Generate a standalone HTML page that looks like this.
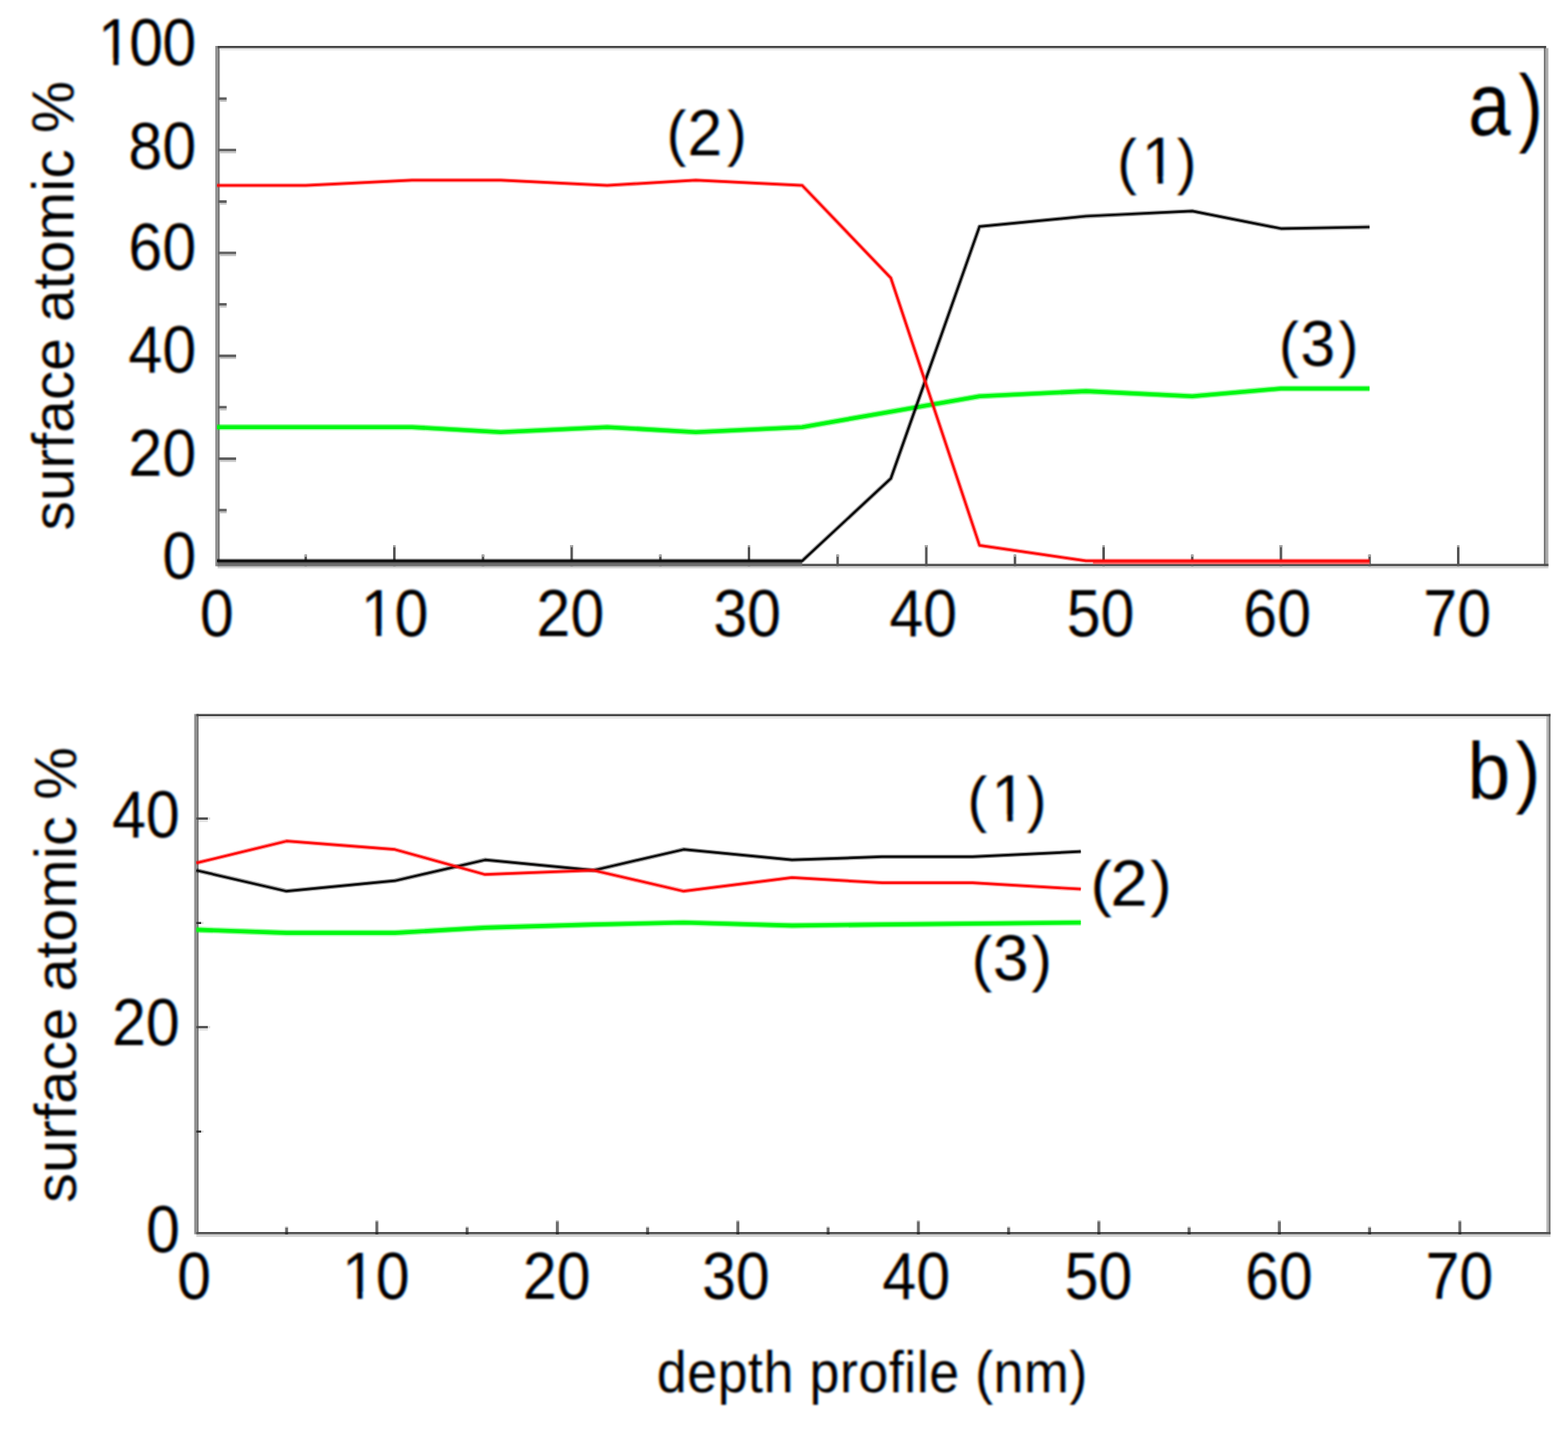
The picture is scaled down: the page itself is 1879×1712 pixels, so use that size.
<!DOCTYPE html>
<html lang="en">
<head>
<meta charset="utf-8">
<title>Depth profiles: surface atomic % vs depth profile (nm)</title>
<style>
html, body { margin: 0; padding: 0; background: #ffffff; }
body { width: 1879px; height: 1712px; overflow: hidden; }
svg { display: block; }
svg text { font-family: "Liberation Sans", Arial, Helvetica, sans-serif; fill: #000000; stroke: none; }
.lines polyline { fill: none; stroke-linejoin: round; stroke-linecap: butt; }
</style>
</head>
<body>
<svg width="1879" height="1712" viewBox="0 0 1879 1712" role="img" aria-label="Depth profiles of surface atomic percent, panels a and b">
<defs>
<filter id="cleartype" filterUnits="userSpaceOnUse" x="-30" y="-30" width="1939" height="1772" color-interpolation-filters="sRGB">
<feGaussianBlur in="SourceGraphic" stdDeviation="0.85" result="s"/>
<feOffset in="s" dx="1.25" dy="0" result="sr"/>
<feOffset in="s" dx="-1.25" dy="0" result="sb"/>
<feColorMatrix in="sr" type="matrix" values="0.80 0 0 0 0  0.12 0 0 0 0  0 0 0 0 0  0 0 0 1 0" result="r"/>
<feColorMatrix in="s"  type="matrix" values="0 0.20 0 0 0  0 0.76 0 0 0  0 0.20 0 0 0  0 0 0 1 0" result="g"/>
<feColorMatrix in="sb" type="matrix" values="0 0 0 0 0  0 0 0.12 0 0  0 0 0.80 0 0  0 0 0 1 0" result="b"/>
<feComposite in="r" in2="g" operator="arithmetic" k1="0" k2="1" k3="1" k4="0" result="rg"/>
<feComposite in="rg" in2="b" operator="arithmetic" k1="0" k2="1" k3="1" k4="0"/>
</filter>
<clipPath id="c1" clipPathUnits="userSpaceOnUse"><rect x="-4000.0" y="-4000.0" width="8000.0" height="3989.53"/><rect x="30.93" y="-4000.0" width="8.23" height="8000.0"/><rect x="-4000.0" y="-4000.0" width="4008.48" height="8000.0"/><rect x="59.98" y="-4000.0" width="4000.0" height="8000.0"/></clipPath>
<clipPath id="c2" clipPathUnits="userSpaceOnUse"><rect x="-4000.0" y="-4000.0" width="8000.0" height="3989.53"/><rect x="25.45" y="-4000.0" width="8.23" height="8000.0"/><rect x="-4000.0" y="-4000.0" width="4003.00" height="8000.0"/><rect x="54.50" y="-4000.0" width="4000.0" height="8000.0"/></clipPath>
<clipPath id="c3" clipPathUnits="userSpaceOnUse"><rect x="-4000" y="-4000" width="8000" height="3992.66"/><rect x="1460.30" y="-4000" width="6.52" height="8000"/><rect x="-4000" y="-4000" width="5442.51" height="8000"/><rect x="1483.31" y="-4000" width="4000" height="8000"/></clipPath>
<clipPath id="c4" clipPathUnits="userSpaceOnUse"><rect x="-4000.0" y="-4000.0" width="8000.0" height="3989.53"/><rect x="25.45" y="-4000.0" width="8.23" height="8000.0"/><rect x="-4000.0" y="-4000.0" width="4003.00" height="8000.0"/><rect x="54.50" y="-4000.0" width="4000.0" height="8000.0"/></clipPath>
<clipPath id="c5" clipPathUnits="userSpaceOnUse"><rect x="-4000" y="-4000" width="8000" height="3992.94"/><rect x="1270.75" y="-4000" width="6.59" height="8000"/><rect x="-4000" y="-4000" width="5252.77" height="8000"/><rect x="1294.01" y="-4000" width="4000" height="8000"/></clipPath>
</defs>
<rect x="0" y="0" width="1879" height="1712" fill="#ffffff"/>
<g class="labels" filter="url(#cleartype)">
<rect x="-40" y="-40" width="1959" height="1792" fill="#ffffff"/>
<text transform="translate(113.25,78.21) scale(0.7300,0.8050)" font-size="100" stroke-width="0.00" clip-path="url(#c1)"><tspan dx="5.48">1</tspan><tspan dx="-4.11">0</tspan><tspan dx="-1.37">0</tspan></text>
<text transform="translate(153.85,201.91) scale(0.7300,0.8050)" font-size="100" stroke-width="0.00">80</text>
<text transform="translate(153.85,323.01) scale(0.7300,0.8050)" font-size="100" stroke-width="0.00">60</text>
<text transform="translate(153.85,446.41) scale(0.7300,0.8050)" font-size="100" stroke-width="0.00">40</text>
<text transform="translate(153.85,570.01) scale(0.7300,0.8050)" font-size="100" stroke-width="0.00">20</text>
<text transform="translate(194.45,693.31) scale(0.7300,0.8050)" font-size="100" stroke-width="0.00">0</text>
<text transform="translate(239.45,762.26) scale(0.7300,0.8050)" font-size="100" stroke-width="0.00">0</text>
<text transform="translate(432.25,762.26) scale(0.7300,0.8050)" font-size="100" stroke-width="0.00" clip-path="url(#c2)">10</text>
<text transform="translate(642.85,762.26) scale(0.7300,0.8050)" font-size="100" stroke-width="0.00">20</text>
<text transform="translate(854.65,762.26) scale(0.7300,0.8050)" font-size="100" stroke-width="0.00">30</text>
<text transform="translate(1065.65,762.26) scale(0.7300,0.8050)" font-size="100" stroke-width="0.00">40</text>
<text transform="translate(1278.25,762.26) scale(0.7300,0.8050)" font-size="100" stroke-width="0.00">50</text>
<text transform="translate(1489.85,762.26) scale(0.7300,0.8050)" font-size="100" stroke-width="0.00">60</text>
<text transform="translate(1705.55,762.26) scale(0.7300,0.8050)" font-size="100" stroke-width="0.00">70</text>
<text transform="translate(0,184.66) scale(0.9566,1)" stroke-width="0.00"><tspan x="835.06" dy="0.00" font-size="73.85">(</tspan><tspan x="861.25" dy="1.69" font-size="78.34">2</tspan><tspan x="910.92" dy="-1.69" font-size="73.85">)</tspan></text>
<text transform="translate(0,218.69) scale(0.9500,1)" stroke-width="0.00" clip-path="url(#c3)"><tspan x="1409.30" dy="0.00" font-size="74.17">(</tspan><tspan x="1440.13" dy="0.96" font-size="79.22">1</tspan><tspan x="1484.52" dy="-0.96" font-size="74.17">)</tspan></text>
<text transform="translate(0,437.59) scale(0.9661,1)" stroke-width="0.00"><tspan x="1586.35" dy="0.00" font-size="74.17">(</tspan><tspan x="1612.84" dy="0.70" font-size="77.68">3</tspan><tspan x="1660.28" dy="-0.70" font-size="74.17">)</tspan></text>
<text transform="translate(0,162.39) scale(0.8452,1)" stroke-width="0.00"><tspan x="2081.60" dy="0.00" font-size="108.24">a</tspan><tspan x="2153.14" dy="-0.69" font-size="103.58">)</tspan></text>
<text transform="translate(88.00,635.40) rotate(-90) scale(0.7020,0.7050)" font-size="100" stroke-width="0.00">surface atomic %</text>
<text transform="translate(134.25,1002.56) scale(0.7300,0.8050)" font-size="100" stroke-width="0.00">40</text>
<text transform="translate(134.25,1252.46) scale(0.7300,0.8050)" font-size="100" stroke-width="0.00">20</text>
<text transform="translate(175.05,1499.86) scale(0.7300,0.8050)" font-size="100" stroke-width="0.00">0</text>
<text transform="translate(212.35,1555.86) scale(0.7300,0.8050)" font-size="100" stroke-width="0.00">0</text>
<text transform="translate(409.65,1555.86) scale(0.7300,0.8050)" font-size="100" stroke-width="0.00" clip-path="url(#c4)">10</text>
<text transform="translate(626.45,1555.86) scale(0.7300,0.8050)" font-size="100" stroke-width="0.00">20</text>
<text transform="translate(841.15,1555.86) scale(0.7300,0.8050)" font-size="100" stroke-width="0.00">30</text>
<text transform="translate(1057.35,1555.86) scale(0.7300,0.8050)" font-size="100" stroke-width="0.00">40</text>
<text transform="translate(1275.65,1555.86) scale(0.7300,0.8050)" font-size="100" stroke-width="0.00">50</text>
<text transform="translate(1491.95,1555.86) scale(0.7300,0.8050)" font-size="100" stroke-width="0.00">60</text>
<text transform="translate(1708.15,1555.86) scale(0.7300,0.8050)" font-size="100" stroke-width="0.00">70</text>
<text transform="translate(0,982.83) scale(0.9500,1)" stroke-width="0.00" clip-path="url(#c5)"><tspan x="1220.24" dy="0.00" font-size="74.49">(</tspan><tspan x="1250.36" dy="1.32" font-size="80.09">1</tspan><tspan x="1295.21" dy="-1.32" font-size="74.49">)</tspan></text>
<text transform="translate(0,1084.02) scale(1.0348,1)" stroke-width="0.00"><tspan x="1262.85" dy="0.00" font-size="74.06">(</tspan><tspan x="1285.83" dy="1.03" font-size="77.77">2</tspan><tspan x="1332.19" dy="-1.03" font-size="74.06">)</tspan></text>
<text transform="translate(0,1173.97) scale(0.9953,1)" stroke-width="0.00"><tspan x="1169.69" dy="0.00" font-size="74.28">(</tspan><tspan x="1195.39" dy="0.32" font-size="77.26">3</tspan><tspan x="1241.88" dy="-0.32" font-size="74.28">)</tspan></text>
<text transform="translate(0,957.40) scale(0.9480,1)" stroke-width="0.00"><tspan x="1854.94" dy="0.00" font-size="97.23">b</tspan><tspan x="1915.54" dy="-1.62" font-size="94.99">)</tspan></text>
<text transform="translate(91.10,1440.93) rotate(-90) scale(0.7120,0.7050)" font-size="100" stroke-width="0.00">surface atomic %</text>
<text transform="translate(786.89,1668.49) scale(0.6450,0.7030)" font-size="100" stroke-width="0.00" letter-spacing="0.97">depth profile (nm)</text>
</g>
<g class="frame">
<rect x="258.00" y="55.00" width="2.70" height="623.40" fill="#8e8e8e"/>
<rect x="260.70" y="55.00" width="2.60" height="623.40" fill="#7a7a7a"/>
<rect x="1850.00" y="55.00" width="2.70" height="623.40" fill="#7c7c7c"/>
<rect x="1852.70" y="57.60" width="2.80" height="620.80" fill="#ababab"/>
<rect x="260.70" y="55.00" width="1592.00" height="2.80" fill="#464646"/>
<rect x="263.30" y="57.80" width="1586.70" height="2.60" fill="#e9e9e9"/>
<rect x="260.70" y="675.50" width="1594.80" height="3.00" fill="#4c4c4c"/>
<rect x="260.70" y="678.50" width="1594.80" height="2.50" fill="#d4d4d4"/>
<rect x="261.50" y="609.58" width="10.10" height="3.20" fill="#5e5e5e"/>
<rect x="263.30" y="612.78" width="8.30" height="2.20" fill="#c4c4c4"/>
<rect x="261.50" y="547.96" width="21.40" height="3.20" fill="#5e5e5e"/>
<rect x="263.30" y="551.16" width="19.60" height="2.20" fill="#c4c4c4"/>
<rect x="261.50" y="486.34" width="10.10" height="3.20" fill="#5e5e5e"/>
<rect x="263.30" y="489.54" width="8.30" height="2.20" fill="#c4c4c4"/>
<rect x="261.50" y="424.72" width="21.40" height="3.20" fill="#5e5e5e"/>
<rect x="263.30" y="427.92" width="19.60" height="2.20" fill="#c4c4c4"/>
<rect x="261.50" y="363.10" width="10.10" height="3.20" fill="#5e5e5e"/>
<rect x="263.30" y="366.30" width="8.30" height="2.20" fill="#c4c4c4"/>
<rect x="261.50" y="301.48" width="21.40" height="3.20" fill="#5e5e5e"/>
<rect x="263.30" y="304.68" width="19.60" height="2.20" fill="#c4c4c4"/>
<rect x="261.50" y="239.86" width="10.10" height="3.20" fill="#5e5e5e"/>
<rect x="263.30" y="243.06" width="8.30" height="2.20" fill="#c4c4c4"/>
<rect x="261.50" y="178.24" width="21.40" height="3.20" fill="#5e5e5e"/>
<rect x="263.30" y="181.44" width="19.60" height="2.20" fill="#c4c4c4"/>
<rect x="261.50" y="116.62" width="10.10" height="3.20" fill="#5e5e5e"/>
<rect x="263.30" y="119.82" width="8.30" height="2.20" fill="#c4c4c4"/>
<rect x="364.84" y="664.50" width="3.00" height="13.80" fill="#555555"/>
<rect x="364.84" y="664.50" width="3.00" height="2.60" fill="#aaaaaa"/>
<rect x="471.08" y="653.00" width="3.00" height="25.30" fill="#555555"/>
<rect x="471.08" y="653.00" width="3.00" height="2.60" fill="#aaaaaa"/>
<rect x="577.32" y="664.50" width="3.00" height="13.80" fill="#555555"/>
<rect x="577.32" y="664.50" width="3.00" height="2.60" fill="#aaaaaa"/>
<rect x="683.56" y="653.00" width="3.00" height="25.30" fill="#555555"/>
<rect x="683.56" y="653.00" width="3.00" height="2.60" fill="#aaaaaa"/>
<rect x="789.80" y="664.50" width="3.00" height="13.80" fill="#555555"/>
<rect x="789.80" y="664.50" width="3.00" height="2.60" fill="#aaaaaa"/>
<rect x="896.04" y="653.00" width="3.00" height="25.30" fill="#555555"/>
<rect x="896.04" y="653.00" width="3.00" height="2.60" fill="#aaaaaa"/>
<rect x="1002.28" y="664.50" width="3.00" height="13.80" fill="#555555"/>
<rect x="1002.28" y="664.50" width="3.00" height="2.60" fill="#aaaaaa"/>
<rect x="1108.52" y="653.00" width="3.00" height="25.30" fill="#555555"/>
<rect x="1108.52" y="653.00" width="3.00" height="2.60" fill="#aaaaaa"/>
<rect x="1214.76" y="664.50" width="3.00" height="13.80" fill="#555555"/>
<rect x="1214.76" y="664.50" width="3.00" height="2.60" fill="#aaaaaa"/>
<rect x="1321.00" y="653.00" width="3.00" height="25.30" fill="#555555"/>
<rect x="1321.00" y="653.00" width="3.00" height="2.60" fill="#aaaaaa"/>
<rect x="1427.24" y="664.50" width="3.00" height="13.80" fill="#555555"/>
<rect x="1427.24" y="664.50" width="3.00" height="2.60" fill="#aaaaaa"/>
<rect x="1533.48" y="653.00" width="3.00" height="25.30" fill="#555555"/>
<rect x="1533.48" y="653.00" width="3.00" height="2.60" fill="#aaaaaa"/>
<rect x="1639.72" y="664.50" width="3.00" height="13.80" fill="#555555"/>
<rect x="1639.72" y="664.50" width="3.00" height="2.60" fill="#aaaaaa"/>
<rect x="1745.96" y="653.00" width="3.00" height="25.30" fill="#555555"/>
<rect x="1745.96" y="653.00" width="3.00" height="2.60" fill="#aaaaaa"/>
<rect x="260.70" y="672.80" width="700.58" height="5.50" fill="#6e6e6e"/>
<rect x="1309.75" y="672.80" width="331.47" height="3.20" fill="#ff6a6a"/>
<rect x="232.70" y="855.40" width="2.60" height="623.30" fill="#8e8e8e"/>
<rect x="235.30" y="855.40" width="2.70" height="623.30" fill="#7a7a7a"/>
<rect x="1853.10" y="858.20" width="2.50" height="620.50" fill="#b8b8b8"/>
<rect x="1855.60" y="855.40" width="2.50" height="623.30" fill="#7a7a7a"/>
<rect x="235.30" y="855.40" width="1622.80" height="2.80" fill="#464646"/>
<rect x="238.00" y="858.20" width="1615.10" height="2.80" fill="#e6e6e6"/>
<rect x="235.30" y="1476.00" width="1622.80" height="2.80" fill="#505050"/>
<rect x="235.30" y="1478.80" width="1622.80" height="3.00" fill="#d2d2d2"/>
<rect x="235.30" y="1354.45" width="5.70" height="2.40" fill="#2a2a2a"/>
<rect x="241.00" y="1354.45" width="2.80" height="2.40" fill="#dddddd"/>
<rect x="235.30" y="1229.20" width="13.90" height="2.70" fill="#4a4a4a"/>
<rect x="249.20" y="1229.20" width="2.70" height="2.70" fill="#dddddd"/>
<rect x="238.00" y="1231.90" width="11.20" height="2.80" fill="#e2e2e2"/>
<rect x="235.30" y="1104.55" width="5.70" height="2.40" fill="#2a2a2a"/>
<rect x="241.00" y="1104.55" width="2.80" height="2.40" fill="#dddddd"/>
<rect x="235.30" y="979.30" width="13.90" height="2.70" fill="#4a4a4a"/>
<rect x="249.20" y="979.30" width="2.70" height="2.70" fill="#dddddd"/>
<rect x="238.00" y="982.00" width="11.20" height="2.80" fill="#e2e2e2"/>
<rect x="341.65" y="1470.70" width="3.60" height="5.50" fill="#6c6c6c"/>
<rect x="341.65" y="1469.50" width="3.60" height="1.20" fill="#b4b4b4"/>
<rect x="341.65" y="1476.00" width="3.60" height="2.80" fill="#2c2c2c"/>
<rect x="449.80" y="1463.30" width="3.60" height="12.90" fill="#6c6c6c"/>
<rect x="449.80" y="1462.10" width="3.60" height="1.20" fill="#b4b4b4"/>
<rect x="449.80" y="1476.00" width="3.60" height="2.80" fill="#2c2c2c"/>
<rect x="557.95" y="1470.70" width="3.60" height="5.50" fill="#6c6c6c"/>
<rect x="557.95" y="1469.50" width="3.60" height="1.20" fill="#b4b4b4"/>
<rect x="557.95" y="1476.00" width="3.60" height="2.80" fill="#2c2c2c"/>
<rect x="666.10" y="1463.30" width="3.60" height="12.90" fill="#6c6c6c"/>
<rect x="666.10" y="1462.10" width="3.60" height="1.20" fill="#b4b4b4"/>
<rect x="666.10" y="1476.00" width="3.60" height="2.80" fill="#2c2c2c"/>
<rect x="774.25" y="1470.70" width="3.60" height="5.50" fill="#6c6c6c"/>
<rect x="774.25" y="1469.50" width="3.60" height="1.20" fill="#b4b4b4"/>
<rect x="774.25" y="1476.00" width="3.60" height="2.80" fill="#2c2c2c"/>
<rect x="882.40" y="1463.30" width="3.60" height="12.90" fill="#6c6c6c"/>
<rect x="882.40" y="1462.10" width="3.60" height="1.20" fill="#b4b4b4"/>
<rect x="882.40" y="1476.00" width="3.60" height="2.80" fill="#2c2c2c"/>
<rect x="990.55" y="1470.70" width="3.60" height="5.50" fill="#6c6c6c"/>
<rect x="990.55" y="1469.50" width="3.60" height="1.20" fill="#b4b4b4"/>
<rect x="990.55" y="1476.00" width="3.60" height="2.80" fill="#2c2c2c"/>
<rect x="1098.70" y="1463.30" width="3.60" height="12.90" fill="#6c6c6c"/>
<rect x="1098.70" y="1462.10" width="3.60" height="1.20" fill="#b4b4b4"/>
<rect x="1098.70" y="1476.00" width="3.60" height="2.80" fill="#2c2c2c"/>
<rect x="1206.85" y="1470.70" width="3.60" height="5.50" fill="#6c6c6c"/>
<rect x="1206.85" y="1469.50" width="3.60" height="1.20" fill="#b4b4b4"/>
<rect x="1206.85" y="1476.00" width="3.60" height="2.80" fill="#2c2c2c"/>
<rect x="1315.00" y="1463.30" width="3.60" height="12.90" fill="#6c6c6c"/>
<rect x="1315.00" y="1462.10" width="3.60" height="1.20" fill="#b4b4b4"/>
<rect x="1315.00" y="1476.00" width="3.60" height="2.80" fill="#2c2c2c"/>
<rect x="1423.15" y="1470.70" width="3.60" height="5.50" fill="#6c6c6c"/>
<rect x="1423.15" y="1469.50" width="3.60" height="1.20" fill="#b4b4b4"/>
<rect x="1423.15" y="1476.00" width="3.60" height="2.80" fill="#2c2c2c"/>
<rect x="1531.30" y="1463.30" width="3.60" height="12.90" fill="#6c6c6c"/>
<rect x="1531.30" y="1462.10" width="3.60" height="1.20" fill="#b4b4b4"/>
<rect x="1531.30" y="1476.00" width="3.60" height="2.80" fill="#2c2c2c"/>
<rect x="1639.45" y="1470.70" width="3.60" height="5.50" fill="#6c6c6c"/>
<rect x="1639.45" y="1469.50" width="3.60" height="1.20" fill="#b4b4b4"/>
<rect x="1639.45" y="1476.00" width="3.60" height="2.80" fill="#2c2c2c"/>
<rect x="1747.60" y="1463.30" width="3.60" height="12.90" fill="#6c6c6c"/>
<rect x="1747.60" y="1462.10" width="3.60" height="1.20" fill="#b4b4b4"/>
<rect x="1747.60" y="1476.00" width="3.60" height="2.80" fill="#2c2c2c"/>
</g>
<g class="lines">
<polyline points="260.1,511.7 493.8,511.7 600.1,517.8 727.6,511.7 833.8,517.8 961.3,511.7 1067.5,493.2 1173.8,474.7 1301.3,468.6 1428.7,474.7 1535.0,465.5 1641.2,465.5" stroke="#00f810" stroke-width="7.6" stroke-opacity="0.38"/>
<polyline points="260.1,511.7 493.8,511.7 600.1,517.8 727.6,511.7 833.8,517.8 961.3,511.7 1067.5,493.2 1173.8,474.7 1301.3,468.6 1428.7,474.7 1535.0,465.5 1641.2,465.5" stroke="#00f810" stroke-width="4.6"/>
<polyline points="260.1,671.9 961.3,671.9 1067.5,573.3 1173.8,271.4 1301.3,259.0 1428.7,252.9 1535.0,273.8 1641.2,272.0" stroke="#0a0a0a" stroke-width="5.3" stroke-opacity="0.38"/>
<polyline points="260.1,671.9 961.3,671.9 1067.5,573.3 1173.8,271.4 1301.3,259.0 1428.7,252.9 1535.0,273.8 1641.2,272.0" stroke="#0a0a0a" stroke-width="2.7"/>
<polyline points="260.1,222.1 366.3,222.1 493.8,215.9 600.1,215.9 727.6,222.1 833.8,215.9 961.3,222.1 1067.5,333.0 1173.8,653.4 1301.3,671.9 1641.2,671.9" stroke="#ff0808" stroke-width="5.3" stroke-opacity="0.38"/>
<polyline points="260.1,222.1 366.3,222.1 493.8,215.9 600.1,215.9 727.6,222.1 833.8,215.9 961.3,222.1 1067.5,333.0 1173.8,653.4 1301.3,671.9 1641.2,671.9" stroke="#ff0808" stroke-width="2.7"/>
<polyline points="235.3,1113.9 343.4,1117.6 473.2,1117.6 581.4,1111.4 711.2,1107.6 819.3,1105.2 949.1,1108.9 1057.2,1107.6 1295.2,1105.2" stroke="#00f810" stroke-width="7.6" stroke-opacity="0.38"/>
<polyline points="235.3,1113.9 343.4,1117.6 473.2,1117.6 581.4,1111.4 711.2,1107.6 819.3,1105.2 949.1,1108.9 1057.2,1107.6 1295.2,1105.2" stroke="#00f810" stroke-width="4.6"/>
<polyline points="235.3,1042.7 343.4,1067.7 473.2,1055.2 581.4,1030.2 711.2,1042.7 819.3,1017.7 949.1,1030.2 1057.2,1026.4 1165.4,1026.4 1295.2,1020.2" stroke="#0a0a0a" stroke-width="5.3" stroke-opacity="0.38"/>
<polyline points="235.3,1042.7 343.4,1067.7 473.2,1055.2 581.4,1030.2 711.2,1042.7 819.3,1017.7 949.1,1030.2 1057.2,1026.4 1165.4,1026.4 1295.2,1020.2" stroke="#0a0a0a" stroke-width="2.7"/>
<polyline points="235.3,1033.9 343.4,1007.7 473.2,1017.7 581.4,1047.7 711.2,1042.7 819.3,1067.7 949.1,1051.4 1057.2,1057.7 1165.4,1057.7 1295.2,1065.2" stroke="#ff0808" stroke-width="5.3" stroke-opacity="0.38"/>
<polyline points="235.3,1033.9 343.4,1007.7 473.2,1017.7 581.4,1047.7 711.2,1042.7 819.3,1067.7 949.1,1051.4 1057.2,1057.7 1165.4,1057.7 1295.2,1065.2" stroke="#ff0808" stroke-width="2.7"/>
</g>
</svg>
</body>
</html>
